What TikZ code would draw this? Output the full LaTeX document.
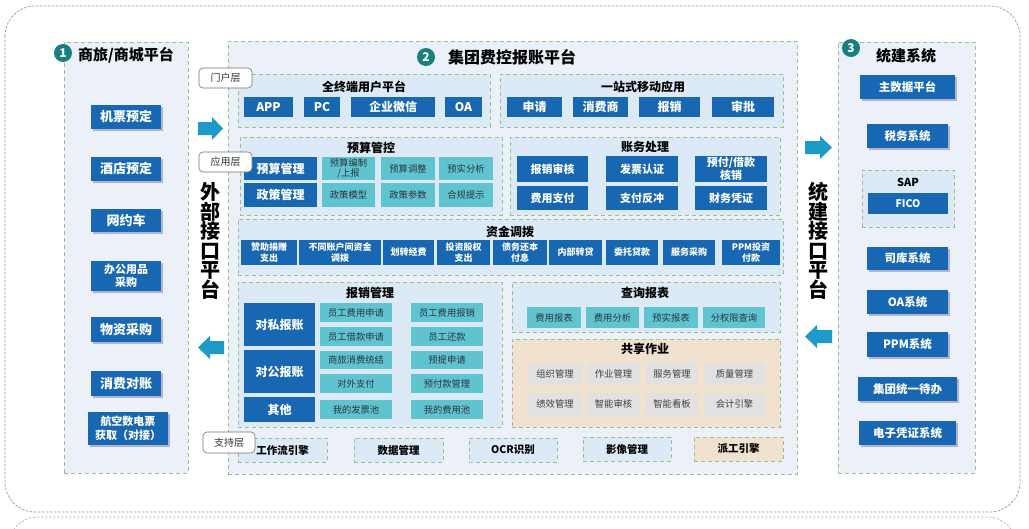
\documentclass[tikz,border=0pt]{standalone}
\usepackage{fontspec}
\setmainfont{Noto Sans CJK SC}
\usetikzlibrary{shadows}
\definecolor{dblue}{HTML}{1767B2}
\definecolor{tealb}{HTML}{5FC4CF}
\definecolor{grayb}{HTML}{E1E1E1}
\definecolor{panelbg}{HTML}{ECF0F8}
\definecolor{grpbg}{HTML}{DCEAF7}
\definecolor{grpline}{HTML}{9DBF8D}
\definecolor{beige}{HTML}{F1E2D0}
\definecolor{arrowc}{HTML}{1E9AC9}
\definecolor{circc}{HTML}{17807D}
\definecolor{framec}{HTML}{7C9DBD}
\definecolor{tdark}{HTML}{2A3440}
\newcommand\fs[2]{\fontsize{#1}{#2}\selectfont}
\newcommand\bx[7]{\node[#6,minimum width={(#4)-(#2)},minimum height={(#5)-(#3)}] (#1) at ({((#2)+(#4))/2},{((#3)+(#5))/2}) {#7};}
\tikzset{
  base/.style={inner sep=0pt,outer sep=0pt,align=center},
  blueb/.style={base,fill=dblue,text=white,font=\bfseries\fs{12}{14}},
  shad/.style={drop shadow={shadow xshift=2pt,shadow yshift=-2pt,fill=black!60!blue,opacity=.25}},
  tealbox/.style={base,fill=tealb,text=tdark,font=\fs{9.3}{10.5}},
  graybox/.style={base,fill=grayb,text=black!75,font=\fs{9.3}{11}},
  grp/.style={base,draw=grpline,dash pattern=on 4pt off 3pt,line width=.7pt,fill=grpbg},
  pnl/.style={base,draw=grpline,dash pattern=on 4pt off 3pt,line width=.7pt,fill=panelbg},
  gtitle/.style={base,font=\bfseries\fs{12}{14},text=black},
  sup/.style={grp,font=\bfseries\fs{10.5}{12},text=black},
  layer/.style={base,draw=black!55,fill=white,rounded corners=4pt,line width=.6pt,font=\fs{10}{12},text=black!80},
  numc/.style={base,circle,fill=circc,text=white,minimum size=18pt,font=\bfseries\fs{12}{12}},
  ptitle/.style={base,font=\bfseries\fs{15}{17},text=black},
  vtitle/.style={base,font=\bfseries\fs{20}{19.5},text=black},
  barrow/.style={fill=arrowc,draw=none},
}
\begin{document}
\begin{tikzpicture}[x=1pt,y=-1pt]
\useasboundingbox (0,0) rectangle (1029,528);
\clip (0,0) rectangle (1029,528);
\fill[white] (0,0) rectangle (1029,528);
% outer frames
\draw[framec,dash pattern=on 2.5pt off 1.5pt,line width=.7pt,rounded corners=30pt] (5,6) rectangle (1020,512);
\draw[framec!70,dash pattern=on 2.5pt off 1.5pt,line width=.7pt,rounded corners=30pt] (8,517) rectangle (1017,600);
% ---------- left panel
\bx{lp}{64}{42}{188}{473}{pnl}{}
\node[numc] (c1) at (63,53) {1};
\node[ptitle] (t1) at (126,55) {商旅/商城平台};
\bx{l1}{91}{105}{161}{129}{blueb,shad,font=\bfseries\fs{13}{15}}{机票预定}
\bx{l2}{91}{157}{161}{181}{blueb,shad,font=\bfseries\fs{13}{15}}{酒店预定}
\bx{l3}{91}{209}{161}{232}{blueb,shad,font=\bfseries\fs{13}{15}}{网约车}
\bx{l4}{91}{261}{161}{291}{blueb,shad,font=\bfseries\fs{11}{13.5}}{办公用品\\采购}
\bx{l5}{91}{317}{161}{342}{blueb,shad,font=\bfseries\fs{13}{15}}{物资采购}
\bx{l6}{91}{371}{161}{396}{blueb,shad,font=\bfseries\fs{13}{15}}{消费对账}
\bx{l7}{88}{412}{168}{445}{blueb,shad,font=\bfseries\fs{11}{13.5}}{航空数电票\\获取（对接）}
% ---------- right panel
\bx{rp}{838}{42}{975}{473}{pnl}{}
\node[numc] (c3) at (851,48) {3};
\node[ptitle] (t3) at (906,56) {统建系统};
\bx{r1}{860}{75}{955}{99}{blueb,shad,font=\bfseries\fs{11.5}{13}}{主数据平台}
\bx{r2}{867}{124}{948}{148}{blueb,shad,font=\bfseries\fs{11.5}{13}}{税务系统}
\bx{sap}{862}{170}{954}{227}{grp}{}
\node[gtitle,font=\bfseries\fs{11}{13}] (saptitle) at (908,182) {SAP};
\bx{r3}{868}{193}{948}{214}{blueb,font=\bfseries\fs{10.5}{12}}{FICO}
\bx{r4}{867}{247}{948}{270}{blueb,shad,font=\bfseries\fs{11.5}{13}}{司库系统}
\bx{r5}{867}{290}{948}{314}{blueb,shad,font=\bfseries\fs{11.5}{13}}{OA系统}
\bx{r6}{867}{332}{948}{357}{blueb,shad,font=\bfseries\fs{11.5}{13}}{PPM系统}
\bx{r7}{858}{377}{957}{401}{blueb,shad,font=\bfseries\fs{11.5}{13}}{集团统一待办}
\bx{r8}{859}{421}{956}{445}{blueb,shad,font=\bfseries\fs{11.5}{13}}{电子凭证系统}
% ---------- centre panel
\bx{cp}{228}{41}{797}{474}{pnl}{}
\node[numc] (c2) at (426,57) {2};
\node[ptitle,font=\bfseries\fs{16}{18}] (t2) at (512,57) {集团费控报账平台};
% portal
\bx{g1}{238}{74}{490}{127}{grp}{}
\node[gtitle] (g1t) at (364,87) {全终端用户平台};
\bx{p1}{244}{97}{293}{117}{blueb}{APP}
\bx{p2}{304}{97}{340}{117}{blueb}{PC}
\bx{p3}{351}{97}{435}{117}{blueb}{企业微信}
\bx{p4}{445}{97}{482}{117}{blueb}{OA}
\bx{g2}{500}{74}{783}{127}{grp}{}
\node[gtitle] (g2t) at (643,87) {一站式移动应用};
\bx{m1}{507}{97}{562}{117}{blueb}{申请}
\bx{m2}{573}{97}{628}{117}{blueb}{消费商}
\bx{m3}{639}{97}{700}{117}{blueb}{报销}
\bx{m4}{712}{97}{774}{117}{blueb}{审批}
% budget
\bx{g3}{240}{137}{502}{215}{grp}{}
\node[gtitle] (g3t) at (371,148) {预算管控};
\bx{b1}{244}{157}{317}{180}{blueb}{预算管理}
\bx{b2}{322}{157}{375}{180}{tealbox}{预算编制\\/上报}
\bx{b3}{381}{157}{435}{180}{tealbox}{预算调整}
\bx{b4}{439}{157}{493}{180}{tealbox}{预实分析}
\bx{b5}{244}{183}{317}{207}{blueb}{政策管理}
\bx{b6}{322}{183}{375}{207}{tealbox}{政策模型}
\bx{b7}{381}{183}{435}{207}{tealbox}{政策参数}
\bx{b8}{439}{183}{493}{207}{tealbox}{合规提示}
% accounts
\bx{g4}{510}{137}{780}{215}{grp}{}
\node[gtitle] (g4t) at (645,147) {账务处理};
\bx{a1}{517}{156}{588}{182}{blueb,font=\bfseries\fs{11}{12.5}}{报销审核}
\bx{a2}{606}{156}{678}{182}{blueb,font=\bfseries\fs{11}{12.5}}{发票认证}
\bx{a3}{695}{156}{767}{182}{blueb,font=\bfseries\fs{11}{12.5}}{预付/借款\\核销}
\bx{a4}{517}{186}{588}{210}{blueb,font=\bfseries\fs{11}{12.5}}{费用支付}
\bx{a5}{606}{186}{678}{210}{blueb,font=\bfseries\fs{11}{12.5}}{支付反冲}
\bx{a6}{695}{186}{767}{210}{blueb,font=\bfseries\fs{11}{12.5}}{财务凭证}
% funds
\bx{g5}{238}{219}{783}{275}{grp}{}
\node[gtitle] (g5t) at (510,232) {资金调拨};
\tikzset{fb/.style={blueb,font=\bfseries\fs{9}{11}}}
\bx{f1}{241}{240}{297}{265}{fb}{赞助捐赠\\支出}
\bx{f2}{299}{240}{381}{265}{fb}{不同账户间资金\\调拨}
\bx{f3}{383}{240}{434}{265}{fb}{划转经费}
\bx{f4}{437}{240}{490}{265}{fb}{投资股权\\支出}
\bx{f5}{493}{240}{547}{265}{fb}{债务还本\\付息}
\bx{f6}{549}{240}{602}{265}{fb}{内部转贷}
\bx{f7}{606}{240}{658}{265}{fb}{委托贷款}
\bx{f8}{663}{240}{715}{265}{fb}{服务采购}
\bx{f9}{722}{240}{780}{265}{fb}{PPM投资\\付款}
% reimbursement
\bx{g6}{238}{282}{502}{427}{grp}{}
\node[gtitle] (g6t) at (370,293) {报销管理};
\bx{e1}{244}{303}{315}{346}{blueb}{对私报账}
\bx{e2}{244}{350}{315}{393}{blueb}{对公报账}
\bx{e3}{244}{397}{315}{422}{blueb}{其他}
\bx{e4}{320}{303}{392}{322}{tealbox}{员工费用申请}
\bx{e5}{320}{327}{392}{346}{tealbox}{员工借款申请}
\bx{e6}{320}{351}{392}{369}{tealbox}{商旅消费统结}
\bx{e7}{320}{374}{392}{393}{tealbox}{对外支付}
\bx{e8}{320}{400}{392}{419}{tealbox}{我的发票池}
\bx{e9}{411}{303}{483}{322}{tealbox}{员工费用报销}
\bx{e10}{411}{327}{483}{346}{tealbox}{员工还款}
\bx{e11}{411}{351}{483}{369}{tealbox}{预提申请}
\bx{e12}{411}{374}{483}{393}{tealbox}{预付款管理}
\bx{e13}{411}{400}{483}{419}{tealbox}{我的费用池}
% query
\bx{g7}{512}{282}{780}{332}{grp}{}
\node[gtitle] (g7t) at (645,293) {查询报表};
\bx{q1}{527}{307}{581}{328}{tealbox}{费用报表}
\bx{q2}{586}{307}{639}{328}{tealbox}{费用分析}
\bx{q3}{644}{307}{698}{328}{tealbox}{预实报表}
\bx{q4}{703}{307}{765}{328}{tealbox}{分权限查询}
% shared
\bx{g8}{512}{339}{780}{427}{grp,fill=beige}{}
\node[gtitle] (g8t) at (645,349) {共享作业};
\bx{s1}{528}{363}{582}{385}{graybox}{组织管理}
\bx{s2}{587}{363}{640}{385}{graybox}{作业管理}
\bx{s3}{646}{363}{698}{385}{graybox}{服务管理}
\bx{s4}{704}{363}{765}{385}{graybox}{质量管理}
\bx{s5}{528}{393}{582}{415}{graybox}{绩效管理}
\bx{s6}{587}{393}{640}{415}{graybox}{智能审核}
\bx{s7}{646}{393}{698}{415}{graybox}{智能看板}
\bx{s8}{704}{393}{765}{415}{graybox}{会计引擎}
% support
\bx{u1}{238}{438}{327}{462}{sup}{工作流引擎}
\bx{u2}{354}{438}{443}{462}{sup}{数据管理}
\bx{u3}{469}{438}{557}{462}{sup}{OCR识别}
\bx{u4}{583}{437}{671}{461}{sup}{影像管理}
\bx{u5}{694}{437}{783}{461}{sup,fill=beige}{派工引擎}
% layer labels
\bx{ly1}{199}{68}{252}{88}{layer}{门户层}
\bx{ly2}{199}{152}{252}{172}{layer}{应用层}
\bx{ly3}{203}{432}{255}{453}{layer}{支持层}
% vertical titles
\node[vtitle] (v1) at (210,241) {外\\部\\接\\口\\平\\台};
\node[vtitle] (v2) at (818,241) {统\\建\\接\\口\\平\\台};
% block arrows
\fill[barrow] (198,122) -- (212,122) -- (212,117) -- (223,128.5) -- (212,140) -- (212,135) -- (198,135) -- cycle;
\fill[barrow] (224,341) -- (210,341) -- (210,336) -- (198,347.5) -- (210,359) -- (210,354) -- (224,354) -- cycle;
\fill[barrow] (805,141) -- (820,141) -- (820,136) -- (832,147.5) -- (820,159) -- (820,154) -- (805,154) -- cycle;
\fill[barrow] (832,330) -- (817,330) -- (817,325) -- (805,336.5) -- (817,348) -- (817,343) -- (832,343) -- cycle;
\end{tikzpicture}
\end{document}
